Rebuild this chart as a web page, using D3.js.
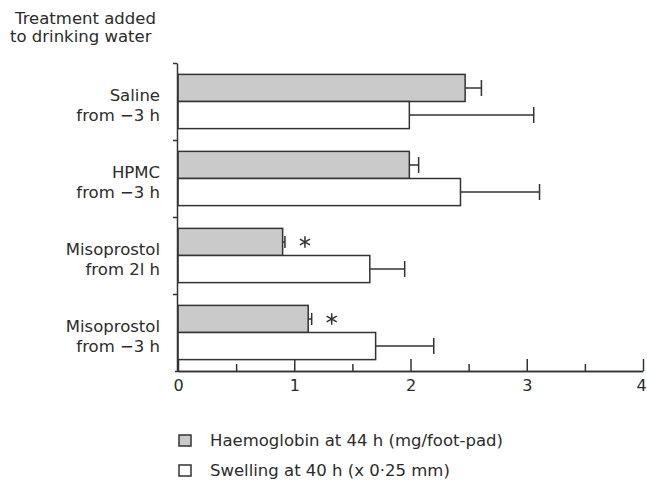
<!DOCTYPE html>
<meta charset="utf-8">
<style type="text/css">
    body { margin: 0; background: #fff; }
    svg text { font-family: "DejaVu Sans", sans-serif; fill: #2b2b2b; }
    .axis path, .axis line { stroke: #333; stroke-width: 1.5; }
    .bar { stroke: #333; stroke-width: 1.5; }
    .err { stroke: #333; stroke-width: 1.5; fill: none; }
</style>
<body>
</body>
<script src="https://d3js.org/d3.v7.min.js"></script>
<script>

    // categories (two text lines each)
    var treatments = ["Saline", "HPMC", "Misoprostol", "Misoprostol"];
    var timing = ["from \u22123 h", "from \u22123 h", "from 2l h", "from \u22123 h"];

    // haemoglobin at 44 h (mg/foot-pad) and its error
    var haemoglobin = [2.47, 1.99, 0.90, 1.12];
    var haemoglobinErr = [0.14, 0.08, 0.02, 0.03];

    // swelling at 40 h (x 0.25 mm) and its error
    var swelling = [1.99, 2.43, 1.65, 1.70];
    var swellingErr = [1.07, 0.68, 0.30, 0.50];

    // significance marks next to the haemoglobin bars
    var significant = [false, false, true, true];

    var xTicks = [0, 1, 2, 3, 4];
    var xMinorTicks = [0.5, 1.5, 2.5, 3.5];

    var width = 647, height = 483;
    var stipple = "#cacaca";

    var svg = d3.select("body").append("svg")
        .attr("width", width)
        .attr("height", height);

    var x = d3.scaleLinear()
        .domain([0, 4])
        .range([178, 643]);

    var groups = d3.range(treatments.length);

    var y = d3.scaleBand()
        .domain(groups)
        .range([63, 371]);

    // boundaries between groups
    var yEdge = d3.scaleLinear()
        .domain([0, treatments.length])
        .range([63, 371]);

    var inner = d3.scaleBand()
        .domain(["hb", "sw"])
        .range([0, y.bandwidth()])
        .paddingOuter(0.42);

    // bars
    var rows = groups.map(function(i) {
        return [
            {g: i, key: "hb", v: haemoglobin[i], e: haemoglobinErr[i]},
            {g: i, key: "sw", v: swelling[i], e: swellingErr[i]}
        ];
    });
    var flat = [].concat.apply([], rows);

    svg.selectAll(".bar")
        .data(flat)
        .enter().append("rect")
        .attr("class", "bar")
        .attr("x", x(0))
        .attr("y", function(d) { return y(d.g) + inner(d.key); })
        .attr("width", function(d) { return x(d.v) - x(0); })
        .attr("height", inner.bandwidth())
        .attr("fill", function(d) { return d.key == "hb" ? stipple : "#fff"; });

    // error bars
    var capH = 16;
    svg.selectAll(".err")
        .data(flat)
        .enter().append("path")
        .attr("class", "err")
        .attr("d", function(d) {
            var cy = y(d.g) + inner(d.key) + inner.bandwidth() / 2;
            var x1 = x(d.v), x2 = x(d.v + d.e);
            var top = d.e < 0.05 ? cy - 6 : cy - capH / 2;
            var bot = d.e < 0.05 ? cy + 6 : cy + capH / 2;
            return "M" + x1 + "," + cy + "L" + x2 + "," + cy +
                "M" + x2 + "," + top + "L" + x2 + "," + bot;
        });

    // asterisks
    svg.selectAll(".star")
        .data(groups.filter(function(i) { return significant[i]; }))
        .enter().append("path")
        .attr("class", "err")
        .attr("d", d3.symbol().type(d3.symbolAsterisk).size(95))
        .attr("transform", function(i) {
            return "translate(" + (x(haemoglobin[i] + haemoglobinErr[i]) + 20) + "," +
                (y(i) + inner("hb") + inner.bandwidth() / 2) + ")";
        });

    // x axis: major and minor ticks pointing up
    svg.append("g")
        .attr("class", "axis")
        .attr("transform", "translate(0,371)")
        .call(d3.axisBottom(x).tickValues(xMinorTicks).tickSize(-7).tickSizeOuter(0).tickFormat(""));

    svg.append("g")
        .attr("class", "axis")
        .attr("transform", "translate(0,371)")
        .attr("font-size", 16)
        .call(d3.axisBottom(x).tickValues(xTicks).tickSize(-12).tickSizeOuter(0).tickPadding(9).tickFormat(d3.format("d")))
        .call(function(g) { g.select(".domain").attr("d", "M175,0.5H643"); })
        .call(function(g) { g.selectAll(".tick text").attr("fill", "#2b2b2b").attr("font-size", 16); })
        .call(function(g) { g.selectAll(".tick text").filter(function(d) { return d == 4; }).attr("dx", -2); });

    // y axis with ticks at group boundaries
    svg.append("g")
        .attr("class", "axis")
        .attr("transform", "translate(177,0)")
        .call(d3.axisLeft(yEdge).tickValues([0, 1, 2, 3]).tickSize(4).tickSizeOuter(0).tickFormat(""));

    // category labels
    var lab = svg.selectAll(".lab")
        .data(groups)
        .enter().append("text")
        .attr("text-anchor", "end")
        .attr("font-size", 16.5)
        .attr("x", 160)
        .attr("y", function(i) { return y(i) + y.bandwidth() / 2; });
    lab.append("tspan").attr("x", 160).attr("dy", -1).text(function(i) { return treatments[i]; });
    lab.append("tspan").attr("x", 160).attr("dy", 20).text(function(i) { return timing[i]; });

    // header
    var head = svg.append("text").attr("font-size", 16.5).attr("fill", "#111");
    head.append("tspan").attr("x", 15).attr("y", 24).text("Treatment added");
    head.append("tspan").attr("x", 10).attr("y", 42).text("to drinking water");

    // legend
    var legend = [
        {label: "Haemoglobin at 44 h (mg/foot-pad)", fill: stipple},
        {label: "Swelling at 40 h (x 0\u00b725 mm)", fill: "#fff"}
    ];
    var lg = svg.selectAll(".lg")
        .data(legend)
        .enter().append("g")
        .attr("transform", function(d, i) { return "translate(179," + (435 + i * 30) + ")"; });
    lg.append("rect")
        .attr("class", "bar")
        .attr("width", 12).attr("height", 11)
        .attr("fill", function(d) { return d.fill; });
    lg.append("text")
        .attr("x", 31).attr("y", 11)
        .attr("font-size", 16.5)
        .text(function(d) { return d.label; });

</script>
